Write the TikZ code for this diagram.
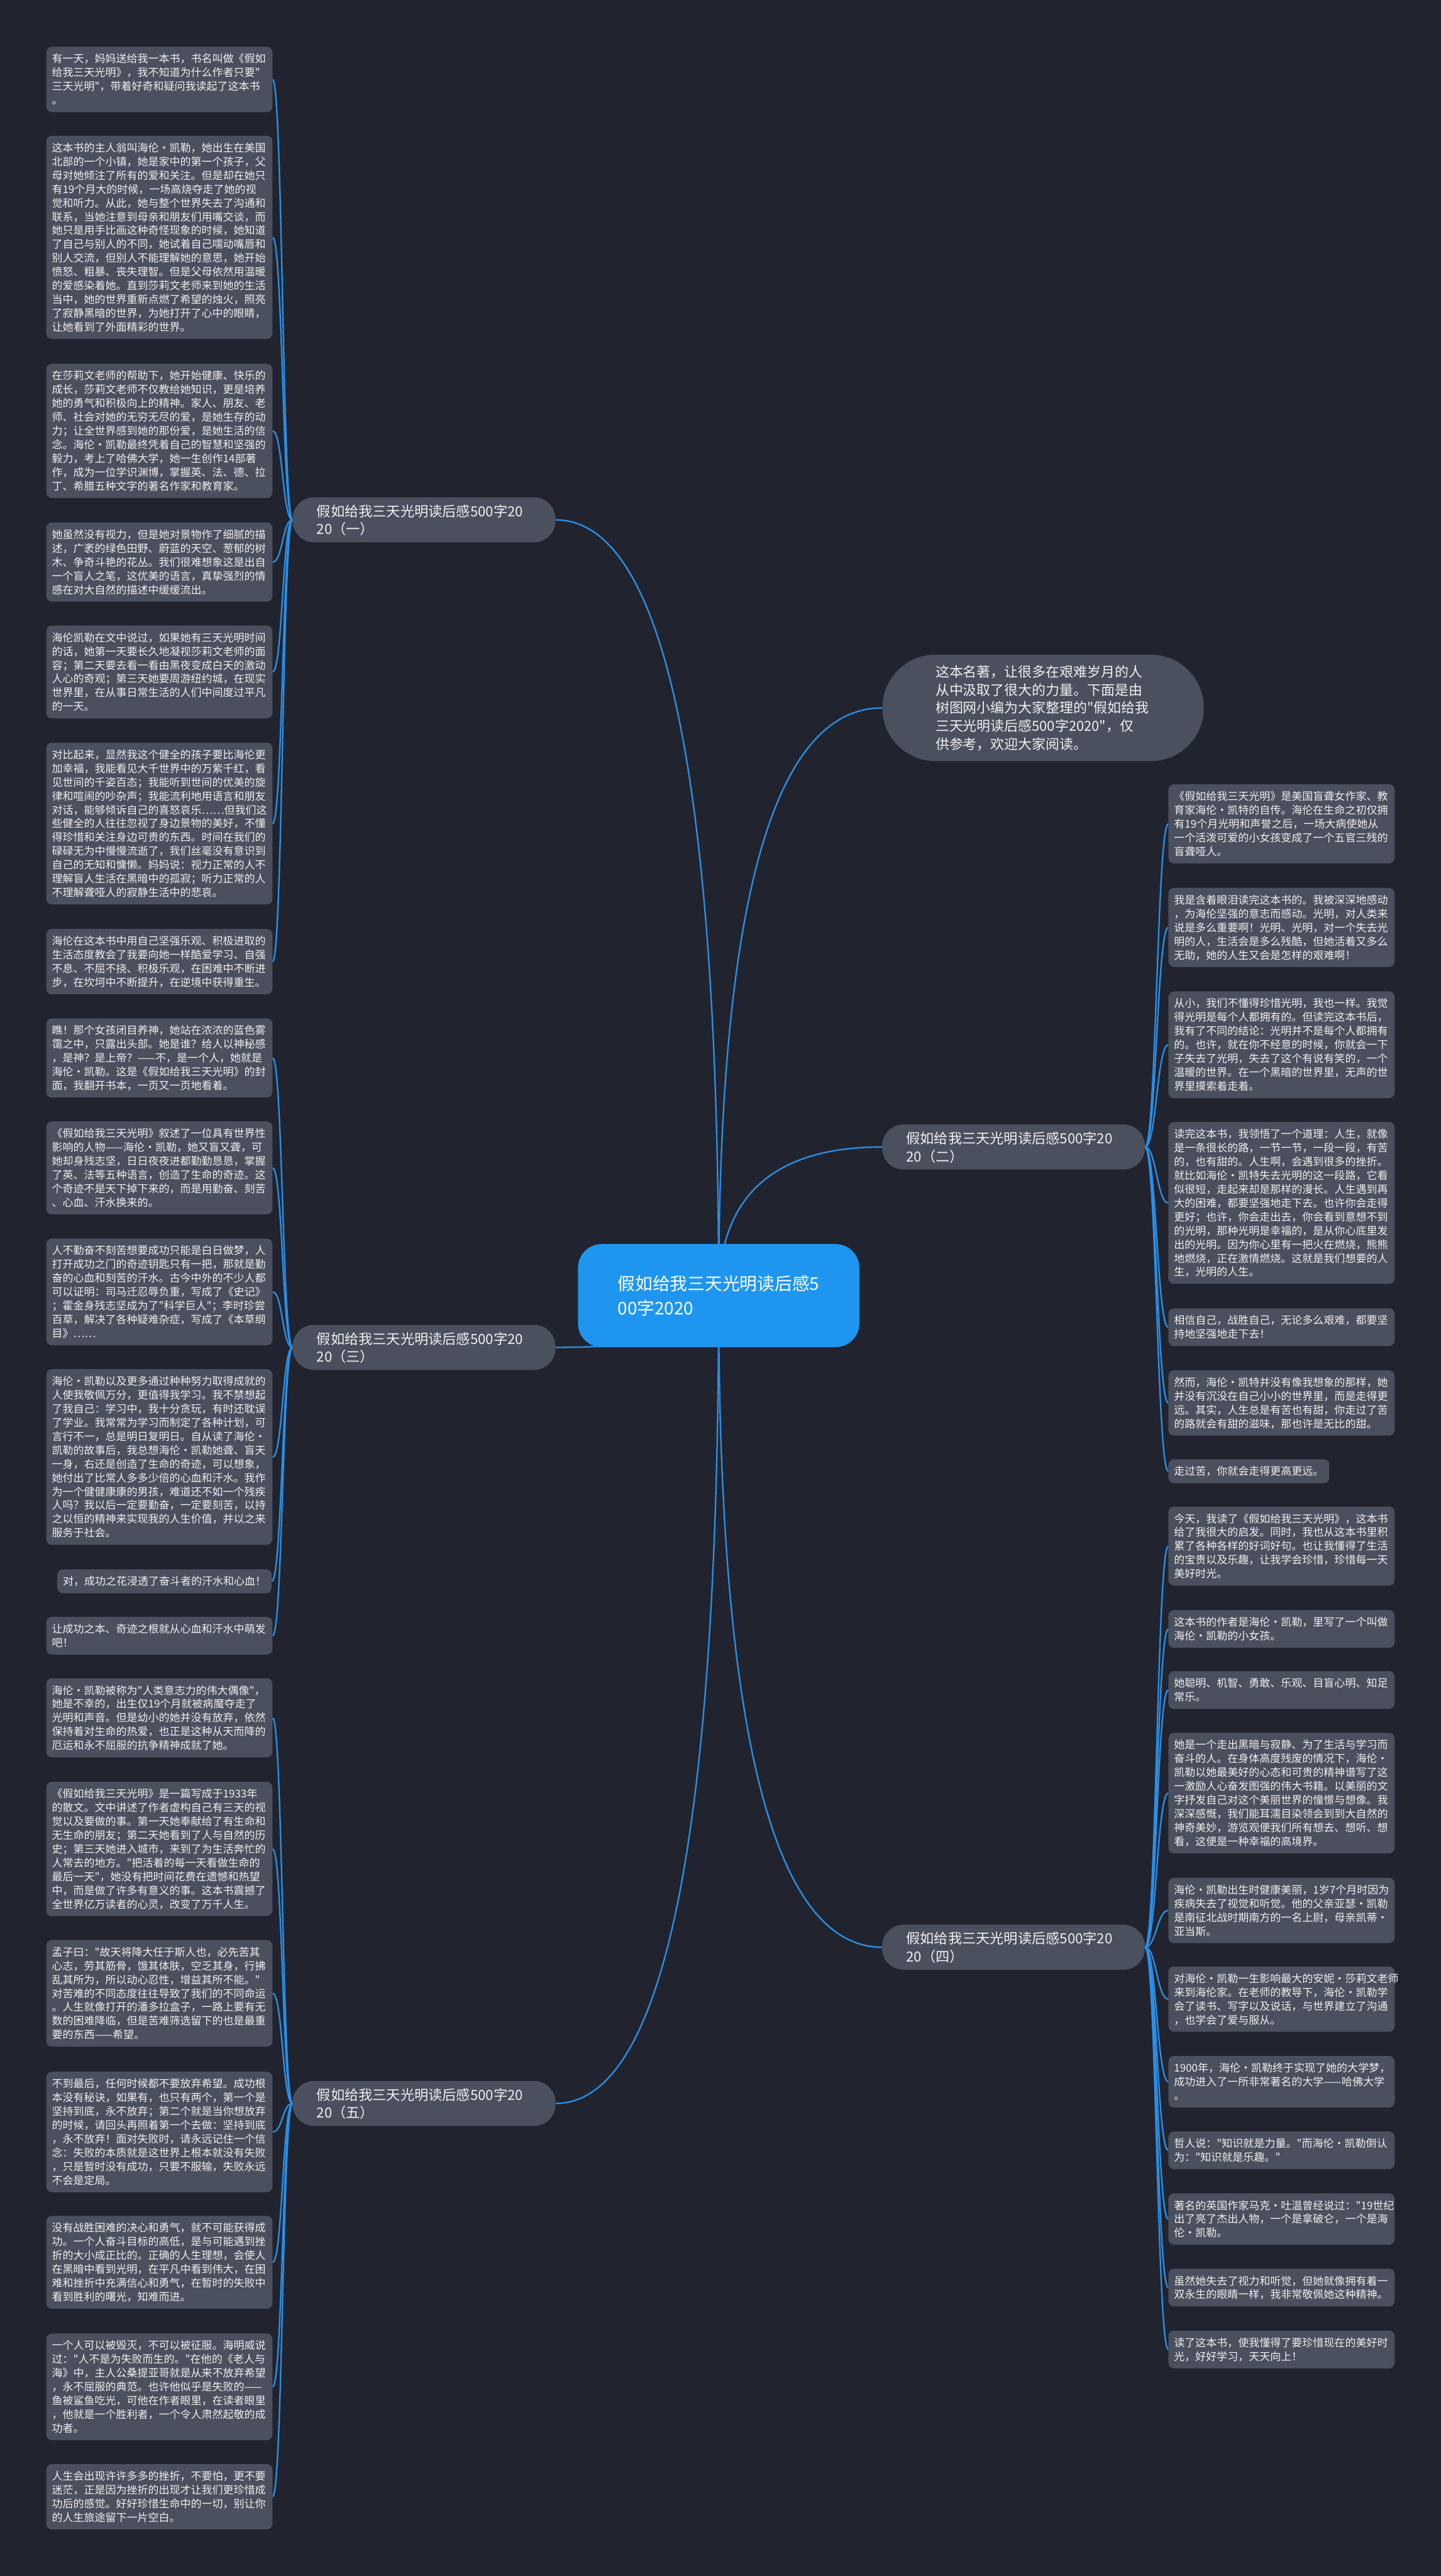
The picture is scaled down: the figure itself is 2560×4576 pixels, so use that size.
\documentclass[tikz,border=0pt]{standalone}
\usepackage{fontspec}
\newfontfamily\cjk{Noto Sans CJK SC}[Ligatures=TeXOff]
\usetikzlibrary{calc}
\definecolor{bgc}{HTML}{21242E}
\definecolor{boxc}{HTML}{4A505E}
\definecolor{txtc}{HTML}{F0F0F0}
\definecolor{linec}{HTML}{2A8FE8}
\definecolor{rootc}{HTML}{1E96F0}
\newcommand\sA{\rule[-5pt]{0pt}{24.5pt}}
\newcommand\sB{\rule[-6.7pt]{0pt}{32pt}}
\newcommand\sC{\rule[-6pt]{0pt}{32pt}}
\newcommand\sD{\rule[-10pt]{0pt}{44pt}}
\pgfdeclarelayer{bg}\pgfdeclarelayer{lines}\pgfsetlayers{bg,lines,main}
\tikzset{
 leaf/.style={fill=boxc, rounded corners=10pt, text=txtc, font=\cjk\fontsize{19}{24.5}\selectfont, text width=382pt, align=left, inner xsep=10pt, inner ysep=0pt, anchor=north west},
 sleaf/.style={fill=boxc, rounded corners=10pt, text=txtc, font=\cjk\fontsize{19}{24.5}\selectfont, align=left, inner xsep=10pt, inner ysep=0pt, minimum height=42.5pt},
 branch/.style={fill=boxc, rounded corners=38pt, text=txtc, font=\cjk\fontsize{24.8}{32}\selectfont, text width=381pt, align=left, inner xsep=43pt, inner ysep=0pt, minimum width=467pt, minimum height=80pt},
 intro/.style={fill=boxc, rounded corners=94pt, text=txtc, font=\cjk\fontsize{24.5}{32}\selectfont, text width=382pt, align=left, inner xsep=20pt, inner ysep=0pt, minimum width=571pt, minimum height=189pt},
 root/.style={fill=rootc, rounded corners=42pt, text=white, font=\cjk\fontsize{31}{44}\selectfont, align=left, inner xsep=20pt, inner ysep=0pt, minimum width=500pt, minimum height=183pt},
 conn/.style={draw=linec, line width=2.6pt}
}
\newcommand\llink[2]{\draw[conn] (#1.west) .. controls +(-18,0) and +(18,0) .. (#2.east);}
\newcommand\rlink[2]{\draw[conn] (#1.east) .. controls +(20,0) and +(-20,0) .. (#2.west);}
\newcommand\rootlink[1]{\coordinate (tmp) at (C.center|-#1); \draw[conn] (C.center) .. controls ($(C.center)!0.667!(tmp)$) and ($(#1)!0.667!(tmp)$) .. (#1);}
\begin{document}
\begin{tikzpicture}[x=1pt,y=-1pt]
\begin{pgfonlayer}{bg}
\fill[bgc] (0,0) rectangle (2560,4576);
\end{pgfonlayer}
\useasboundingbox (0,0) rectangle (2560,4576);

% root and branches
\node[root] (C) at (1277,2301.5) {\sD 假如给我三天光明读后感5\\00字2020\sD};
\node[intro] (I) at (1853.5,1257.5) {\sB 这本名著，让很多在艰难岁月的人\\从中汲取了很大的力量。下面是由\\树图网小编为大家整理的"假如给我\\三天光明读后感500字2020"，仅\\供参考，欢迎大家阅读。\sB};
\node[branch] (B1) at (753.5,923.5) {\sC 假如给我三天光明读后感500字20\\20（一）\sC};
\node[branch] (B3) at (753.5,2393.5) {\sC 假如给我三天光明读后感500字20\\20（三）\sC};
\node[branch] (B5) at (753.5,3736.5) {\sC 假如给我三天光明读后感500字20\\20（五）\sC};
\node[branch] (B2) at (1801,2037.5) {\sC 假如给我三天光明读后感500字20\\20（二）\sC};
\node[branch] (B4) at (1801,3459) {\sC 假如给我三天光明读后感500字20\\20（四）\sC};

% left leaves
\node[leaf, minimum height=116pt] (L1) at (82,83) {\sA 有一天，妈妈送给我一本书，书名叫做《假如\\
给我三天光明》，我不知道为什么作者只要"\\
三天光明"，带着好奇和疑问我读起了这本书\\
。\sA};
\node[leaf, minimum height=361pt] (L2) at (82,241) {\sA 这本书的主人翁叫海伦·凯勒，她出生在美国\\
北部的一个小镇，她是家中的第一个孩子，父\\
母对她倾注了所有的爱和关注。但是却在她只\\
有19个月大的时候，一场高烧夺走了她的视\\
觉和听力。从此，她与整个世界失去了沟通和\\
联系，当她注意到母亲和朋友们用嘴交谈，而\\
她只是用手比画这种奇怪现象的时候，她知道\\
了自己与别人的不同，她试着自己嚅动嘴唇和\\
别人交流，但别人不能理解她的意思，她开始\\
愤怒、粗暴、丧失理智。但是父母依然用温暖\\
的爱感染着她。直到莎莉文老师来到她的生活\\
当中，她的世界重新点燃了希望的烛火，照亮\\
了寂静黑暗的世界，为她打开了心中的眼睛，\\
让她看到了外面精彩的世界。\sA};
\node[leaf, minimum height=238.5pt] (L3) at (82,646) {\sA 在莎莉文老师的帮助下，她开始健康、快乐的\\
成长，莎莉文老师不仅教给她知识，更是培养\\
她的勇气和积极向上的精神。家人、朋友、老\\
师、社会对她的无穷无尽的爱，是她生存的动\\
力；让全世界感到她的那份爱，是她生活的信\\
念。海伦·凯勒最终凭着自己的智慧和坚强的\\
毅力，考上了哈佛大学，她一生创作14部著\\
作，成为一位学识渊博，掌握英、法、德、拉\\
丁、希腊五种文字的著名作家和教育家。\sA};
\node[leaf, minimum height=140.5pt] (L4) at (82,928) {\sA 她虽然没有视力，但是她对景物作了细腻的描\\
述，广袤的绿色田野、蔚蓝的天空、葱郁的树\\
木、争奇斗艳的花丛。我们很难想象这是出自\\
一个盲人之笔，这优美的语言，真挚强烈的情\\
感在对大自然的描述中缓缓流出。\sA};
\node[leaf, minimum height=165pt] (L5) at (82,1111) {\sA 海伦凯勒在文中说过，如果她有三天光明时间\\
的话，她第一天要长久地凝视莎莉文老师的面\\
容；第二天要去看一看由黑夜变成白天的激动\\
人心的奇观；第三天她要周游纽约城，在现实\\
世界里，在从事日常生活的人们中间度过平凡\\
的一天。\sA};
\node[leaf, minimum height=287.5pt] (L6) at (82,1319) {\sA 对比起来，显然我这个健全的孩子要比海伦更\\
加幸福，我能看见大千世界中的万紫千红，看\\
见世间的千姿百态；我能听到世间的优美的旋\\
律和喧闹的吵杂声；我能流利地用语言和朋友\\
对话，能够倾诉自己的喜怒哀乐……但我们这\\
些健全的人往往忽视了身边景物的美好，不懂\\
得珍惜和关注身边可贵的东西。时间在我们的\\
碌碌无为中慢慢流逝了，我们丝毫没有意识到\\
自己的无知和慵懒。妈妈说：视力正常的人不\\
理解盲人生活在黑暗中的孤寂；听力正常的人\\
不理解聋哑人的寂静生活中的悲哀。\sA};
\node[leaf, minimum height=116pt] (L7) at (82,1650) {\sA 海伦在这本书中用自己坚强乐观、积极进取的\\
生活态度教会了我要向她一样酷爱学习、自强\\
不息、不屈不挠、积极乐观，在困难中不断进\\
步，在坎坷中不断提升，在逆境中获得重生。\sA};
\node[leaf, minimum height=140.5pt] (L8) at (82,1809) {\sA 瞧！那个女孩闭目养神，她站在浓浓的蓝色雾\\
霭之中，只露出头部。她是谁？给人以神秘感\\
，是神？是上帝？——不，是一个人，她就是\\
海伦·凯勒。这是《假如给我三天光明》的封\\
面，我翻开书本，一页又一页地看着。\sA};
\node[leaf, minimum height=165pt] (L9) at (82,1992) {\sA 《假如给我三天光明》叙述了一位具有世界性\\
影响的人物——海伦·凯勒，她又盲又聋，可\\
她却身残志坚，日日夜夜进都勤勤恳恳，掌握\\
了英、法等五种语言，创造了生命的奇迹。这\\
个奇迹不是天下掉下来的，而是用勤奋、刻苦\\
、心血、汗水换来的。\sA};
\node[leaf, minimum height=189.5pt] (L10) at (82,2200) {\sA 人不勤奋不刻苦想要成功只能是白日做梦，人\\
打开成功之门的奇迹钥匙只有一把，那就是勤\\
奋的心血和刻苦的汗水。古今中外的不少人都\\
可以证明：司马迁忍辱负重，写成了《史记》\\
；霍金身残志坚成为了"科学巨人"；李时珍尝\\
百草，解决了各种疑难杂症，写成了《本草纲\\
目》……\sA};
\node[leaf, minimum height=312pt] (L11) at (82,2432) {\sA 海伦·凯勒以及更多通过种种努力取得成就的\\
人使我敬佩万分，更值得我学习。我不禁想起\\
了我自己：学习中，我十分贪玩，有时还耽误\\
了学业。我常常为学习而制定了各种计划，可\\
言行不一，总是明日复明日。自从读了海伦·\\
凯勒的故事后，我总想海伦·凯勒她聋、盲天\\
一身，右还是创造了生命的奇迹，可以想象，\\
她付出了比常人多多少倍的心血和汗水。我作\\
为一个健健康康的男孩，难道还不如一个残疾\\
人吗？我以后一定要勤奋，一定要刻苦，以持\\
之以恒的精神来实现我的人生价值，并以之来\\
服务于社会。\sA};
\node[sleaf, anchor=north east] (L12) at (483,2787.5) {\sA 对，成功之花浸透了奋斗者的汗水和心血！};
\node[leaf, minimum height=67pt] (L13) at (82,2872) {\sA 让成功之本、奇迹之根就从心血和汗水中萌发\\
吧！\sA};
\node[leaf, minimum height=140.5pt] (L14) at (82,2981) {\sA 海伦·凯勒被称为"人类意志力的伟大偶像"，\\
她是不幸的，出生仅19个月就被病魔夺走了\\
光明和声音。但是幼小的她并没有放弃，依然\\
保持着对生命的热爱，也正是这种从天而降的\\
厄运和永不屈服的抗争精神成就了她。\sA};
\node[leaf, minimum height=238.5pt] (L15) at (82,3165) {\sA 《假如给我三天光明》是一篇写成于1933年\\
的散文。文中讲述了作者虚构自己有三天的视\\
觉以及要做的事。第一天她奉献给了有生命和\\
无生命的朋友；第二天她看到了人与自然的历\\
史；第三天她进入城市，来到了为生活奔忙的\\
人常去的地方。"把活着的每一天看做生命的\\
最后一天"，她没有把时间花费在遗憾和热望\\
中，而是做了许多有意义的事。这本书震撼了\\
全世界亿万读者的心灵，改变了万千人生。\sA};
\node[leaf, minimum height=189.5pt] (L16) at (82,3446) {\sA 孟子曰："故天将降大任于斯人也，必先苦其\\
心志，劳其筋骨，饿其体肤，空乏其身，行拂\\
乱其所为，所以动心忍性，增益其所不能。"\\
对苦难的不同态度往往导致了我们的不同命运\\
。人生就像打开的潘多拉盒子，一路上要有无\\
数的困难降临，但是苦难筛选留下的也是最重\\
要的东西——希望。\sA};
\node[leaf, minimum height=214pt] (L17) at (82,3680) {\sA 不到最后，任何时候都不要放弃希望。成功根\\
本没有秘诀，如果有，也只有两个，第一个是\\
坚持到底，永不放弃；第二个就是当你想放弃\\
的时候，请回头再照着第一个去做：坚持到底\\
，永不放弃！面对失败时，请永远记住一个信\\
念：失败的本质就是这世界上根本就没有失败\\
，只是暂时没有成功，只要不服输，失败永远\\
不会是定局。\sA};
\node[leaf, minimum height=165pt] (L18) at (82,3936) {\sA 没有战胜困难的决心和勇气，就不可能获得成\\
功。一个人奋斗目标的高低，是与可能遇到挫\\
折的大小成正比的。正确的人生理想，会使人\\
在黑暗中看到光明，在平凡中看到伟大，在困\\
难和挫折中充满信心和勇气，在暂时的失败中\\
看到胜利的曙光，知难而进。\sA};
\node[leaf, minimum height=189.5pt] (L19) at (82,4145) {\sA 一个人可以被毁灭，不可以被征服。海明威说\\
过："人不是为失败而生的。"在他的《老人与\\
海》中，主人公桑提亚哥就是从来不放弃希望\\
，永不屈服的典范。也许他似乎是失败的——\\
鱼被鲨鱼吃光，可他在作者眼里，在读者眼里\\
，他就是一个胜利者，一个令人肃然起敬的成\\
功者。\sA};
\node[leaf, minimum height=116pt] (L20) at (82,4377) {\sA 人生会出现许许多多的挫折，不要怕，更不要\\
迷茫，正是因为挫折的出现才让我们更珍惜成\\
功后的感觉。好好珍惜生命中的一切，别让你\\
的人生旅途留下一片空白。\sA};

% right leaves
\node[leaf, minimum height=140.5pt] (R1) at (2076,1393) {\sA 《假如给我三天光明》是美国盲聋女作家、教\\
育家海伦·凯特的自传。海伦在生命之初仅拥\\
有19个月光明和声誉之后，一场大病使她从\\
一个活泼可爱的小女孩变成了一个五官三残的\\
盲聋哑人。\sA};
\node[leaf, minimum height=140.5pt] (R2) at (2076,1577) {\sA 我是含着眼泪读完这本书的。我被深深地感动\\
，为海伦坚强的意志而感动。光明，对人类来\\
说是多么重要啊！光明、光明，对一个失去光\\
明的人，生活会是多么残酷，但她活着又多么\\
无助，她的人生又会是怎样的艰难啊！\sA};
\node[leaf, minimum height=189.5pt] (R3) at (2076,1761) {\sA 从小，我们不懂得珍惜光明，我也一样。我觉\\
得光明是每个人都拥有的。但读完这本书后，\\
我有了不同的结论：光明并不是每个人都拥有\\
的。也许，就在你不经意的时候，你就会一下\\
子失去了光明，失去了这个有说有笑的，一个\\
温暖的世界。在一个黑暗的世界里，无声的世\\
界里摸索着走着。\sA};
\node[leaf, minimum height=287.5pt] (R4) at (2076,1993) {\sA 读完这本书，我领悟了一个道理：人生，就像\\
是一条很长的路，一节一节，一段一段，有苦\\
的，也有甜的。人生啊，会遇到很多的挫折。\\
就比如海伦·凯特失去光明的这一段路，它看\\
似很短，走起来却是那样的漫长。人生遇到再\\
大的困难，都要坚强地走下去。也许你会走得\\
更好；也许，你会走出去，你会看到意想不到\\
的光明，那种光明是幸福的，是从你心底里发\\
出的光明。因为你心里有一把火在燃烧，熊熊\\
地燃烧，正在激情燃烧。这就是我们想要的人\\
生，光明的人生。\sA};
\node[leaf, minimum height=67pt] (R5) at (2076,2324) {\sA 相信自己，战胜自己，无论多么艰难，都要坚\\
持地坚强地走下去！\sA};
\node[leaf, minimum height=116pt] (R6) at (2076,2434) {\sA 然而，海伦·凯特并没有像我想象的那样，她\\
并没有沉没在自己小小的世界里，而是走得更\\
远。其实，人生总是有苦也有甜，你走过了苦\\
的路就会有甜的滋味，那也许是无比的甜。\sA};
\node[sleaf, anchor=north west] (R7) at (2076,2592) {\sA 走过苦，你就会走得更高更远。};
\node[leaf, minimum height=140.5pt] (R8) at (2076,2676) {\sA 今天，我读了《假如给我三天光明》，这本书\\
给了我很大的启发。同时，我也从这本书里积\\
累了各种各样的好词好句。也让我懂得了生活\\
的宝贵以及乐趣，让我学会珍惜，珍惜每一天\\
美好时光。\sA};
\node[leaf, minimum height=67pt] (R9) at (2076,2860) {\sA 这本书的作者是海伦·凯勒，里写了一个叫做\\
海伦·凯勒的小女孩。\sA};
\node[leaf, minimum height=67pt] (R10) at (2076,2968.5) {\sA 她聪明、机智、勇敢、乐观、目盲心明、知足\\
常乐。\sA};
\node[leaf, minimum height=214pt] (R11) at (2076,3078) {\sA 她是一个走出黑暗与寂静、为了生活与学习而\\
奋斗的人。在身体高度残废的情况下，海伦·\\
凯勒以她最美好的心态和可贵的精神谱写了这\\
一激励人心奋发图强的伟大书籍。以美丽的文\\
字抒发自己对这个美丽世界的憧憬与想像。我\\
深深感慨，我们能耳濡目染领会到到大自然的\\
神奇美妙，游览观便我们所有想去、想听、想\\
看，这便是一种幸福的高境界。\sA};
\node[leaf, minimum height=116pt] (R12) at (2076,3335.5) {\sA 海伦·凯勒出生时健康美丽，1岁7个月时因为\\
疾病失去了视觉和听觉。他的父亲亚瑟·凯勒\\
是南征北战时期南方的一名上尉，母亲凯蒂·\\
亚当斯。\sA};
\node[leaf, minimum height=116pt] (R13) at (2076,3493) {\sA 对海伦·凯勒一生影响最大的安妮·莎莉文老师\\
来到海伦家。在老师的教导下，海伦·凯勒学\\
会了读书、写字以及说话，与世界建立了沟通\\
，也学会了爱与服从。\sA};
\node[leaf, minimum height=91.5pt] (R14) at (2076,3652) {\sA 1900年，海伦·凯勒终于实现了她的大学梦，\\
成功进入了一所非常著名的大学——哈佛大学\\
。\sA};
\node[leaf, minimum height=67pt] (R15) at (2076,3786) {\sA 哲人说："知识就是力量。"而海伦·凯勒倒认\\
为："知识就是乐趣。"\sA};
\node[leaf, minimum height=91.5pt] (R16) at (2076,3896) {\sA 著名的英国作家马克·吐温曾经说过："19世纪\\
出了亮了杰出人物，一个是拿破仑，一个是海\\
伦·凯勒。\sA};
\node[leaf, minimum height=67pt] (R17) at (2076,4030) {\sA 虽然她失去了视力和听觉，但她就像拥有着一\\
双永生的眼睛一样，我非常敬佩她这种精神。\sA};
\node[leaf, minimum height=67pt] (R18) at (2076,4140) {\sA 读了这本书，使我懂得了要珍惜现在的美好时\\
光，好好学习，天天向上！\sA};

\begin{pgfonlayer}{lines}
\rootlink{B1.east}
\rootlink{B3.east}
\rootlink{B5.east}
\rootlink{I.west}
\rootlink{B2.west}
\rootlink{B4.west}
\foreach \k in {1,...,7}{\llink{B1}{L\k}}
\foreach \k in {8,...,13}{\llink{B3}{L\k}}
\foreach \k in {14,...,20}{\llink{B5}{L\k}}
\foreach \k in {1,...,7}{\rlink{B2}{R\k}}
\foreach \k in {8,...,18}{\rlink{B4}{R\k}}
\end{pgfonlayer}
\end{tikzpicture}
\end{document}
